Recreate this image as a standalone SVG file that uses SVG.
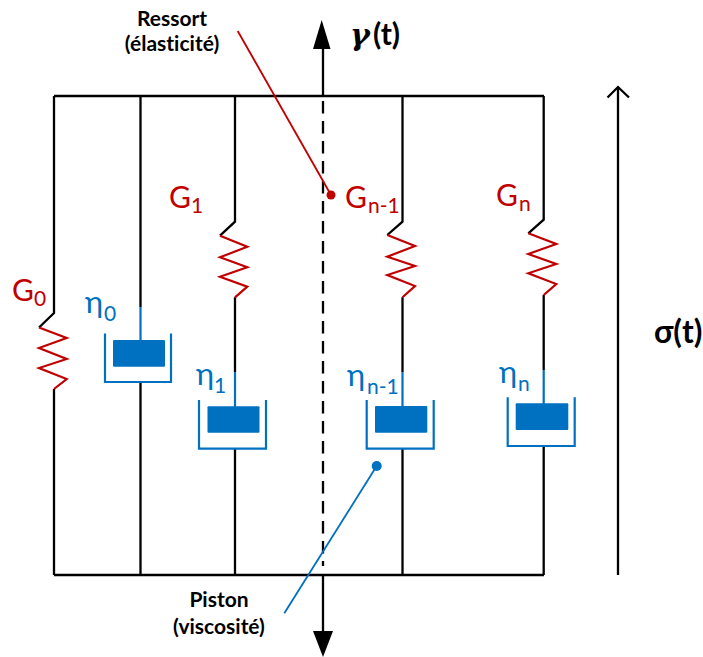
<svg xmlns="http://www.w3.org/2000/svg" width="703" height="657" viewBox="0 0 703 657">
<style>
.w{fill:none;stroke:#000;stroke-width:2.3}
.s{fill:none;stroke:#c00000;stroke-width:2.2;stroke-linejoin:miter}
.b{fill:none;stroke:#0070c0;stroke-width:2.2}
.p{fill:#0070c0}
.l{font-family:Lato,"Liberation Sans",sans-serif;font-variant-ligatures:none}
.g{fill:#c00000;font-size:30px}
.gs{fill:#c00000;font-size:21px}
.e{fill:#0070c0;font-size:31px}
.es{fill:#0070c0;font-size:21px}
.t{fill:#000;font-size:21px;font-weight:700;text-anchor:middle}
.m{fill:#000;font-size:30px;font-weight:700}
</style>
<rect width="703" height="657" fill="#fff"/>
<g id="connectors">
<path class="w" d="M54 96H544M54 575H544"/>
<path class="w" d="M323 48V96M323 575V632"/>
<path class="w" d="M323 101V566" stroke-dasharray="12.5 7.5"/>
<path d="M321.7 20L313 49H330.5Z" fill="#000"/>
<path d="M323 657L313 631H333Z" fill="#000"/>
<path class="w" d="M618 575V87M607.5 97.5L618 87L629 97.5"/>
<path d="M237.7 31L331 195" fill="none" stroke="#c00000" stroke-width="1.8"/>
<circle cx="331" cy="195" r="4.5" fill="#c00000"/>
<path d="M284.3 613.3L376.7 466" fill="none" stroke="#0070c0" stroke-width="1.8"/>
<circle cx="376.7" cy="466" r="5" fill="#0070c0"/>
</g>
<g id="spring-g0">
<path class="w" d="M54 96V313L39 327.5M54 389V575"/>
<path class="s" d="M39 327.5L66.7 338L39 348L66.7 359L39 368L66.7 379L54 389"/>
<text class="l g" x="12" y="301">G</text><text class="l gs" x="34" y="306">0</text>
</g>
<g id="dashpot-0">
<path class="w" d="M140.5 96V307M140.5 382V575"/>
<path class="b" d="M140.5 307V341M105 333.5V382H171V333.5"/>
<rect class="p" x="113" y="340" width="52" height="26.7" rx="1"/>
<text class="l e" x="85" y="313">η</text><text class="l es" x="104" y="321">0</text>
</g>
<g id="spring-g1">
<path class="w" d="M235 96V221.7L220 235.7M235 297.3V372M235 449V575"/>
<path class="s" d="M220 235.7L247.3 246.7L220 257.3L247.3 267.3L220 276.7L247.3 286.7L235 297.3"/>
<text class="l g" x="169" y="208">G</text><text class="l gs" x="191" y="213">1</text>
</g>
<g id="dashpot-1">
<path class="b" d="M235 372V407M199 400V448.7H266V400"/>
<rect class="p" x="207.5" y="406.3" width="52" height="26.4" rx="1"/>
<text class="l e" x="196" y="385">η</text><text class="l es" x="214" y="393">1</text>
</g>
<g id="spring-gn1">
<path class="w" d="M402.5 96V221.7L387.3 235M402.5 297.3V372.5M402.5 449V575"/>
<path class="s" d="M387.3 235L415 246L387.3 256.7L415 266L387.3 275L415 286L402.5 297.3"/>
<text class="l g" x="345" y="208">G</text><text class="l gs" x="368" y="213">n-1</text>
</g>
<g id="dashpot-n1">
<path class="b" d="M402.5 372.5V407M366.7 400V448.7H433.7V400"/>
<rect class="p" x="375" y="406" width="52.3" height="26.7" rx="1"/>
<text class="l e" x="347" y="386">η</text><text class="l es" x="367" y="394">n-1</text>
</g>
<g id="spring-gn">
<path class="w" d="M543.7 96V219.7L528.3 233.3M543.7 295V370M543.7 446V575"/>
<path class="s" d="M528.3 233.3L556.3 244L528.3 254L556.3 264L528.3 273.3L556.3 284L543.7 295"/>
<text class="l g" x="496" y="206">G</text><text class="l gs" x="519" y="211">n</text>
</g>
<g id="dashpot-n">
<path class="b" d="M543.7 370V404M507.7 397.3V446H574.7V397.3"/>
<rect class="p" x="515.7" y="403.3" width="52.6" height="26.7" rx="1"/>
<text class="l e" x="499" y="383">η</text><text class="l es" x="518" y="391">n</text>
</g>
<g id="labels">
<text class="l t" x="172" y="26">Ressort</text>
<text class="l t" x="172" y="51">(élasticité)</text>
<text class="l t" x="219" y="607">Piston</text>
<text class="l t" x="219" y="634">(viscosité)</text>
<text class="m" x="350" y="45" font-family="'DejaVu Serif',serif" font-style="italic">γ</text>
<text class="l m" x="373" y="45">(t)</text>
<text class="l" x="654" y="343" fill="#000" font-size="31.5" font-weight="700">σ(t)</text>
</g>
</svg>
